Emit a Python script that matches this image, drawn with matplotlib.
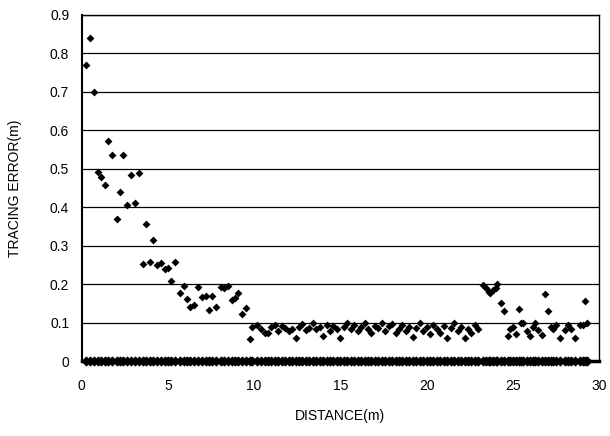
import matplotlib
matplotlib.use("Agg")
import matplotlib.pyplot as plt

plt.rcParams["font.family"] = ["Liberation Sans", "DejaVu Sans"]

# distance (m) and tracing error (m)
dist = [
    0.23, 0.46, 0.72, 0.95, 1.14, 1.35, 1.55, 1.74, 2.03, 2.2,
    2.4, 2.65, 2.84, 3.1, 3.31, 3.54, 3.71, 3.95, 4.12, 4.39,
    4.58, 4.85, 5.03, 5.2, 5.41, 5.7, 5.92, 6.09, 6.3, 6.52,
    6.77, 6.96, 7.2, 7.39, 7.58, 7.78, 8.07, 8.26, 8.46, 8.71,
    8.86, 9.07, 9.29, 9.52, 9.73, 9.9, 10.14, 10.37, 10.62, 10.8,
    11.0, 11.2, 11.4, 11.6, 11.8, 12.0, 12.2, 12.4, 12.6, 12.8,
    13.0, 13.2, 13.4, 13.6, 13.8, 14.0, 14.2, 14.4, 14.6, 14.8,
    15.0, 15.2, 15.4, 15.6, 15.8, 16.0, 16.2, 16.4, 16.6, 16.8,
    17.0, 17.2, 17.4, 17.6, 17.8, 18.0, 18.2, 18.4, 18.6, 18.8,
    19.0, 19.2, 19.4, 19.6, 19.8, 20.0, 20.2, 20.4, 20.6, 20.8,
    21.0, 21.2, 21.4, 21.6, 21.8, 22.0, 22.2, 22.4, 22.6, 22.8,
    23.0, 23.29, 23.45, 23.6, 23.7, 23.85, 24.0, 24.1, 24.32, 24.51,
    24.7, 24.85, 25.0, 25.2, 25.38, 25.45, 25.61, 25.8, 26.0, 26.2,
    26.3, 26.48, 26.68, 26.87, 27.06, 27.2, 27.34, 27.5, 27.74, 28.03,
    28.22, 28.4, 28.61, 28.9, 29.07, 29.19, 29.3,
]
error = [
    0.77, 0.84, 0.70, 0.493, 0.48, 0.457, 0.573, 0.537, 0.369, 0.441,
    0.535, 0.406, 0.485, 0.412, 0.49, 0.254, 0.358, 0.258, 0.315, 0.25,
    0.256, 0.24, 0.243, 0.209, 0.259, 0.179, 0.196, 0.163, 0.142, 0.147,
    0.193, 0.168, 0.169, 0.134, 0.17, 0.142, 0.194, 0.191, 0.196, 0.16,
    0.164, 0.179, 0.124, 0.14, 0.059, 0.089, 0.094, 0.084, 0.073, 0.075,
    0.09, 0.095, 0.08, 0.092, 0.088, 0.078, 0.085, 0.062, 0.09, 0.097,
    0.082, 0.088, 0.1, 0.085, 0.09, 0.065, 0.095, 0.08, 0.092, 0.085,
    0.06, 0.09, 0.1, 0.083, 0.095, 0.078, 0.09, 0.1, 0.085, 0.075,
    0.093, 0.088, 0.1, 0.08, 0.092, 0.097, 0.073, 0.085, 0.095, 0.08,
    0.09, 0.064, 0.088, 0.1, 0.078, 0.09, 0.07, 0.095, 0.085, 0.075,
    0.092, 0.06, 0.088, 0.1, 0.08, 0.09, 0.06, 0.085, 0.075, 0.095,
    0.085, 0.199, 0.19, 0.18, 0.177, 0.185, 0.19, 0.2, 0.151, 0.131,
    0.065, 0.085, 0.09, 0.07, 0.136, 0.1, 0.099, 0.08, 0.065, 0.09,
    0.1, 0.082, 0.069, 0.175, 0.132, 0.09, 0.084, 0.095, 0.06, 0.082,
    0.095, 0.085, 0.06, 0.095, 0.095, 0.158, 0.1,
]
# second series sits on zero along the whole run
zero_err = [0.0] * len(dist)

x_ticks = [0, 5, 10, 15, 20, 25, 30]
y_ticks = [0, 0.1, 0.2, 0.3, 0.4, 0.5, 0.6, 0.7, 0.8, 0.9]

fig = plt.figure(figsize=(6.1, 4.36), dpi=100)
ax = fig.add_axes([0.134, 0.171, 0.848, 0.795])

ax.scatter(dist, error, marker="D", s=16, color="black", linewidths=0, zorder=3)
ax.scatter(dist, zero_err, marker="D", s=20, color="black", linewidths=0.8,
           edgecolors="black", zorder=3, clip_on=False)

ax.set_xlim(0, 30)
ax.set_ylim(0, 0.9)
ax.set_xticks(x_ticks)
ax.set_yticks(y_ticks)
ax.set_yticklabels([f"{v:g}" for v in y_ticks])
ax.yaxis.grid(True, color="black", linewidth=0.9)
ax.set_axisbelow(True)
ax.tick_params(length=0, labelsize=10)
ax.tick_params(axis="x", pad=13)
ax.tick_params(axis="y", pad=9)
for s in ax.spines.values():
    s.set_linewidth(1.0)
ax.spines["left"].set_linewidth(1.5)
ax.spines["bottom"].set_linewidth(2.5)

ax.set_xlabel("DISTANCE(m)", fontsize=10, labelpad=11)
ax.set_ylabel("TRACING ERROR(m)", fontsize=10, labelpad=20)

fig.savefig("out.png", dpi=100)
